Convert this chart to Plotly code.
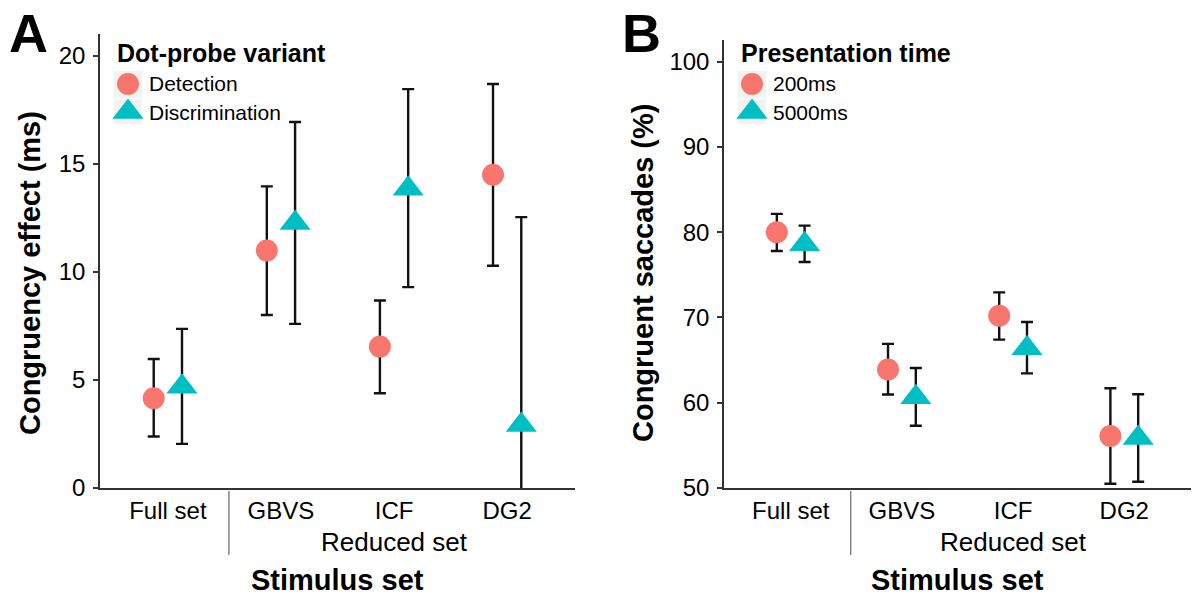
import plotly.graph_objects as go

# ---------------- data ----------------
categories = ["Full set", "GBVS", "ICF", "DG2"]

# Panel A: congruency effect (ms)
a_series = ["Detection", "Discrimination"]
a_detection = [4.15, 10.99, 6.54, 14.49]
a_detection_upper = [5.97, 13.95, 8.67, 18.69]
a_detection_lower = [2.38, 8.00, 4.38, 10.28]
a_discrimination = [4.68, 12.26, 13.84, 2.91]
a_discrimination_upper = [7.36, 16.93, 18.45, 12.53]
a_discrimination_lower = [2.04, 7.59, 9.29, -6.70]
a_yticks = [0, 5, 10, 15, 20]

# Panel B: congruent saccades (%)
b_series = ["200ms", "5000ms"]
b_200 = [80.0, 63.9, 70.2, 56.1]
b_200_upper = [82.15, 66.9, 72.94, 61.7]
b_200_lower = [77.8, 60.96, 67.4, 50.5]
b_5000 = [78.6, 60.65, 66.4, 55.86]
b_5000_upper = [80.77, 64.07, 69.46, 61.0]
b_5000_lower = [76.5, 57.3, 63.44, 50.74]
b_yticks = [50, 60, 70, 80, 90, 100]

legend_titles = ["Dot-probe variant", "Presentation time"]
y_titles = ["Congruency effect (ms)", "Congruent saccades (%)"]
x_title = "Stimulus set"
group_label = "Reduced set"
panel_letters = ["A", "B"]

# ---------------- style ----------------
W, H = 1192, 595
FONT = "Liberation Sans, Arial, Helvetica, sans-serif"
RED, CYAN = "#F8766D", "#00BFC4"
AXC = "#333333"
DODGE = 0.125


def px(x):
    return x / W


def py(y):
    return 1 - y / H


# panel geometry in pixels (left, right, top, bottom)
PA = (100, 575, 34, 488)
PB = (724, 1191, 40, 488)

fig = go.Figure()


def add_series(vals, up, lo, color, symbol, size, offset, xa, ya):
    xs = [i + 1 + offset for i in range(len(vals))]
    fig.add_trace(go.Scatter(
        x=xs, y=vals, mode="markers",
        marker=dict(color=color, symbol=symbol, size=size, line=dict(width=0)),
        error_y=dict(type="data", symmetric=False,
                     array=[u - v for u, v in zip(up, vals)],
                     arrayminus=[v - l for v, l in zip(vals, lo)],
                     color="#111111", thickness=2.4, width=6),
        xaxis=xa, yaxis=ya, showlegend=False, hoverinfo="x+y"))


add_series(a_detection, a_detection_upper, a_detection_lower, RED, "circle", 22, -DODGE, "x", "y")
add_series(a_discrimination, a_discrimination_upper, a_discrimination_lower, CYAN, "triangle-up", 27, DODGE, "x", "y")
add_series(b_200, b_200_upper, b_200_lower, RED, "circle", 22, -DODGE, "x2", "y2")
add_series(b_5000, b_5000_upper, b_5000_lower, CYAN, "triangle-up", 27, DODGE, "x2", "y2")

# ---------------- custom legends (overlay pixel axis) ----------------
annotations = []
shapes = []
legend_specs = [
    (PA, legend_titles[0], a_series),
    (PB, legend_titles[1], b_series),
]
key_rows = [84, 112]
for (pl, pr, pt, pb), title, labels in legend_specs:
    tx = pl + 15
    kx = pl + 28
    lx = pl + 47
    annotations.append(dict(x=px(tx), y=py(53), xref="paper", yref="paper", text="<b>%s</b>" % title,
                            showarrow=False, xanchor="left", yanchor="middle",
                            font=dict(family=FONT, size=25, color="black")))
    for row, lab in zip(key_rows, labels):
        annotations.append(dict(x=px(lx), y=py(row), xref="paper", yref="paper", text=lab,
                                showarrow=False, xanchor="left", yanchor="middle",
                                font=dict(family=FONT, size=21, color="black")))
    shapes.append(dict(type="rect", xref="paper", yref="paper", x0=px(kx - 14), x1=px(kx + 14),
                       y0=py(98), y1=py(71), fillcolor="#F2F2F2", line=dict(width=0), layer="below"))
    shapes.append(dict(type="rect", xref="paper", yref="paper", x0=px(kx - 14), x1=px(kx + 14),
                       y0=py(124), y1=py(99), fillcolor="#F2F2F2", line=dict(width=0), layer="below"))
    fig.add_trace(go.Scatter(x=[kx], y=[key_rows[0]], mode="markers",
                             marker=dict(color=RED, symbol="circle", size=22), xaxis="x3", yaxis="y3",
                             showlegend=False, hoverinfo="skip"))
    fig.add_trace(go.Scatter(x=[kx], y=[key_rows[1]], mode="markers",
                             marker=dict(color=CYAN, symbol="triangle-up", size=27), xaxis="x3", yaxis="y3",
                             showlegend=False, hoverinfo="skip"))

# ---------------- text annotations ----------------
for (pl, pr, pt, pb), letter, lx, ytitle, xa in [
        (PA, panel_letters[0], 28, y_titles[0], "x"),
        (PB, panel_letters[1], 641, y_titles[1], "x2")]:
    annotations.append(dict(x=px(lx), y=py(33), xref="paper", yref="paper", text="<b>%s</b>" % letter,
                            showarrow=False, xanchor="center", yanchor="middle",
                            font=dict(family=FONT, size=54, color="black")))
    annotations.append(dict(x=px(lx + 2), y=py(273), xref="paper", yref="paper", text="<b>%s</b>" % ytitle,
                            textangle=-90, showarrow=False, xanchor="center", yanchor="middle",
                            font=dict(family=FONT, size=29, color="black")))
    annotations.append(dict(x=3, y=py(542), xref=xa, yref="paper", text=group_label,
                            showarrow=False, xanchor="center", yanchor="middle",
                            font=dict(family=FONT, size=26, color="black")))
    annotations.append(dict(x=px((pl + pr) / 2), y=py(580), xref="paper", yref="paper",
                            text="<b>%s</b>" % x_title, showarrow=False, xanchor="center", yanchor="middle",
                            font=dict(family=FONT, size=29, color="black")))
    shapes.append(dict(type="line", xref=xa, yref="paper", x0=1.54, x1=1.54, y0=py(491), y1=py(555),
                       line=dict(color="#666666", width=1.2)))


def xaxis_cfg(p, anchor):
    return dict(domain=[px(p[0]), px(p[1])], range=[0.4, 4.6], tickvals=[1, 2, 3, 4], ticktext=categories,
                ticks="", ticklen=0, showline=True, linecolor=AXC, linewidth=1.5, showgrid=False,
                zeroline=False, tickfont=dict(family=FONT, size=24, color="black"), anchor=anchor,
                ticklabelstandoff=0, fixedrange=True, automargin=False)


def yaxis_cfg(p, rng, tv, anchor):
    return dict(domain=[py(p[3]), py(p[2])], range=rng, tickvals=tv, ticks="outside", ticklen=5,
                tickwidth=1.5, tickcolor=AXC, showline=True, linecolor=AXC, linewidth=1.5, showgrid=False,
                zeroline=False, tickfont=dict(family=FONT, size=24, color="black"), anchor=anchor,
                ticklabelstandoff=3, fixedrange=True, automargin=False)


fig.update_layout(
    width=W, height=H, autosize=False, margin=dict(l=0, r=0, t=0, b=0, pad=0),
    paper_bgcolor="white", plot_bgcolor="rgba(0,0,0,0)",
    font=dict(family=FONT, color="black"),
    xaxis=xaxis_cfg(PA, "y"),
    yaxis=yaxis_cfg(PA, [0, 21.0], a_yticks, "x"),
    xaxis2=xaxis_cfg(PB, "y2"),
    yaxis2=yaxis_cfg(PB, [50, 102.54], b_yticks, "x2"),
    xaxis3=dict(domain=[0, 1], range=[0, W], visible=False, anchor="y3", fixedrange=True),
    yaxis3=dict(domain=[0, 1], range=[H, 0], visible=False, anchor="x3", fixedrange=True),
    annotations=annotations, shapes=shapes, showlegend=False,
)

fig.write_html("out.html", config={"responsive": False, "displayModeBar": False})
